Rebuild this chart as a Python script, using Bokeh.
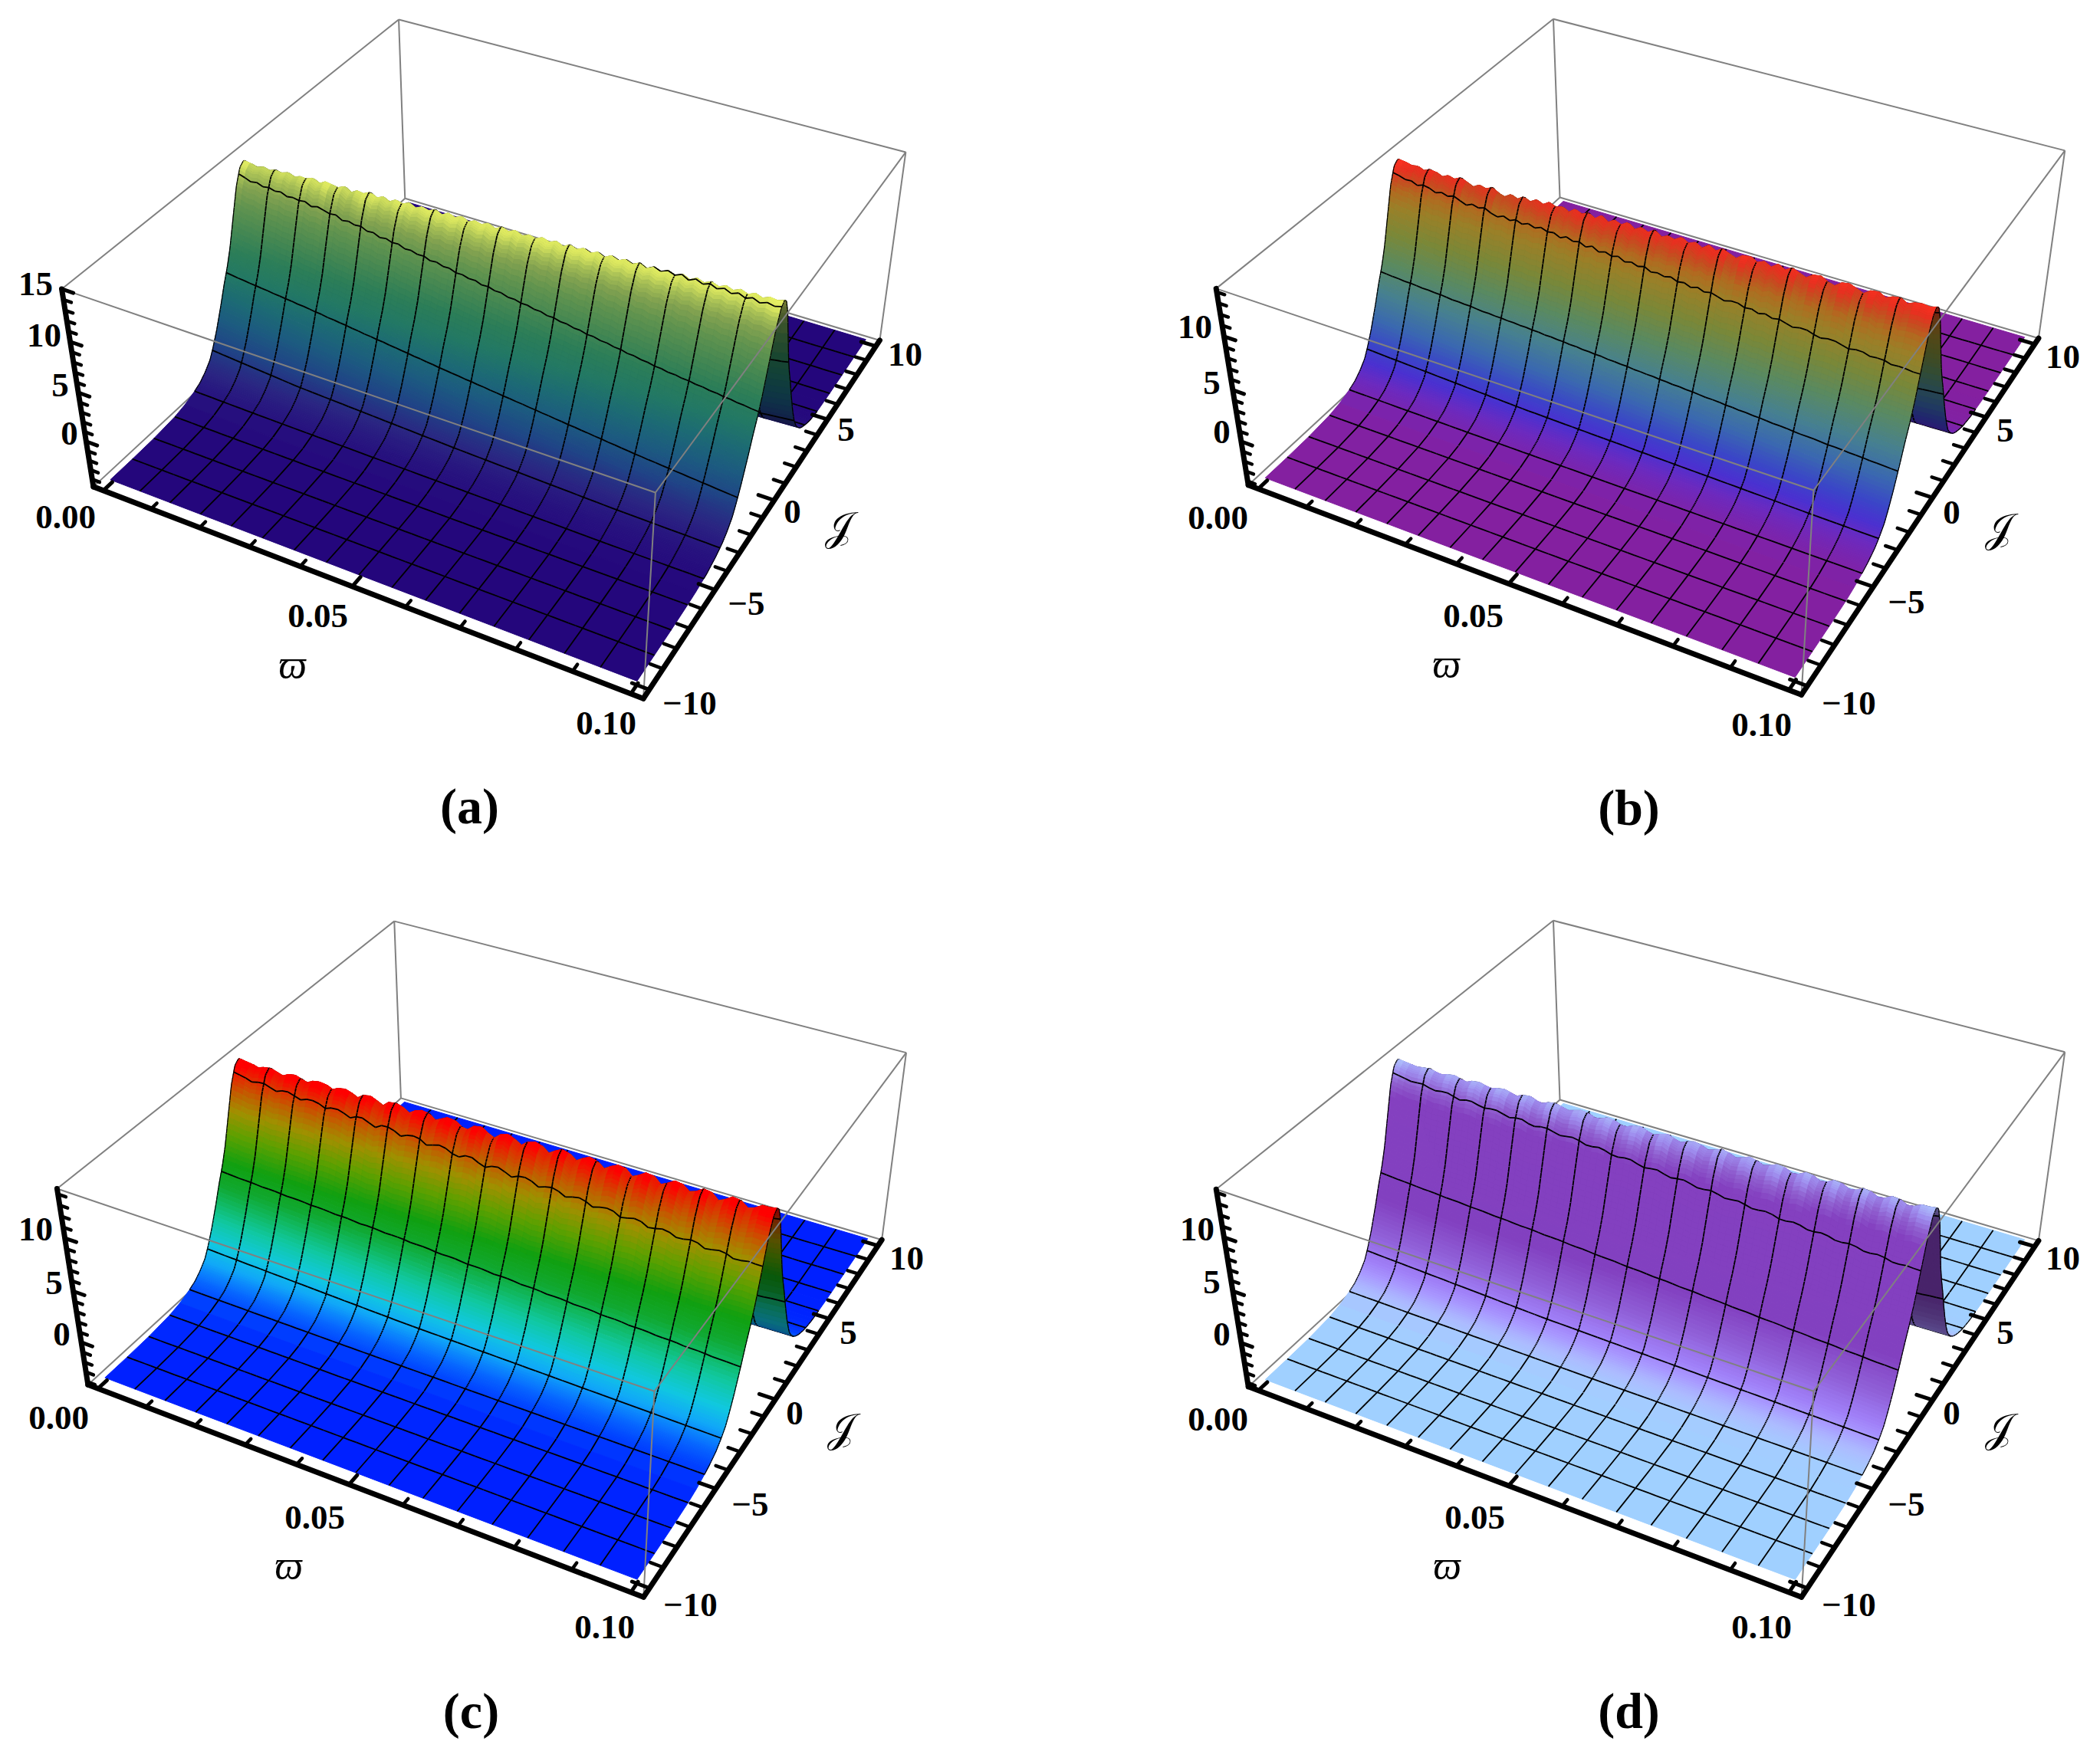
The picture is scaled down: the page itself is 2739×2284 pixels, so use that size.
import numpy as np
from bokeh.plotting import figure
from bokeh.layouts import gridplot
from bokeh.models import Range1d, ColumnDataSource
from bokeh.core.properties import value
from bokeh.embed import file_html
from bokeh.resources import INLINE

# ---------- data ----------
omega_range = (0.0, 0.10)
J_range = (-10.0, 10.0)
box_pad_omega = 0.0021
box_pad_J = 0.42
mesh_cells = 16
samples_per_cell = 5

# distance from the ridge line along the J axis, and rise of the surface there (0 = floor, 1 = crest)
ridge_J = [0, .25, .55, .8, 1.0, 1.25, 1.5, 1.8, 2.1, 2.5, 2.8, 3.05, 3.4, 3.75, 4.25, 5, 6, 7.5, 8.75, 30]
ridge_rise = [1, .98, .90, .80, .72, .62, .54, .46, .37, .26, .19, .14, .10, .07, .045, .02, .006, .001, 0, 0]
back_slope_narrowing = 1.25
# how strongly the crest's ripple reaches down the slope
reach_J = [0, .25, .5, .75, 1, 1.25, 1.5, 2, 2.5, 3, 3.3, 30]
reach_val = [1, 1, .75, .5, .33, .2, .13, .08, .05, .02, 0, 0]

ripple_a = [-.02, -.04, -.07, -.04, -.07,
            -.04, -.06, -.03, -.07, -.04,
            -.05, -.02, -.07, -.02, -.04,
            -.06, -.02, -.08, -.03, -.05,
            -.01, -.06, -.02, -.07, -.02,
            -.05, -.01, -.06, -.02, -.05,
            -.01, -.06, -.01, -.05, -.01,
            -.06, -.02, -.05, -.01, -.06,
            -.01, -.05, -.01, -.06, -.02,
            -.05, -.01, -.05, -.01, -.06,
            -.01, -.05, -.01, -.05, -.01,
            -.06, -.01, -.05, -.01, -.05,
            -.01, -.06, -.01, -.05, -.01,
            -.05, -.01, -.06, -.01, -.05,
            -.01, -.05, -.01, -.05, -.01,
            -.05, -.01, -.05, -.01, -.03, 0]
ripple_b = [0, -.01, -.03, -.02, -.05,
            -.02, -.03, -.06, -.03, -.05,
            -.02, -.05, -.08, -.04, -.06,
            -.03, -.07, -.09, -.05, -.08,
            -.04, -.07, -.03, -.06, -.02,
            -.05, -.03, -.07, -.02, -.05,
            -.02, -.06, -.01, -.06, -.02,
            -.05, -.01, -.06, -.02, -.05,
            -.01, -.06, -.03, -.05, -.01,
            -.05, -.02, -.06, -.01, -.05,
            -.01, -.04, -.07, -.02, -.01,
            -.05, -.02, -.06, -.01, -.05,
            -.01, -.04, -.07, -.02, -.01,
            -.05, -.07, -.02, -.01, -.04,
            -.07, -.02, -.01, -.05, -.02,
            -.01, -.05, -.02, -.01, -.02, 0]
ripple_c = [0, -.01, -.02, -.04, -.02,
            -.01, -.03, -.05, -.02, -.01,
            -.03, -.05, -.02, -.01, -.02,
            -.05, -.02, -.01, -.03, -.06,
            -.02, -.01, -.04, -.07, -.02,
            -.01, -.03, -.07, -.03, -.01,
            -.02, -.07, -.04, -.01, -.02,
            -.06, -.07, -.02, -.01, -.05,
            -.08, -.03, -.01, -.04, -.08,
            -.03, -.01, -.03, -.08, -.04,
            -.01, -.03, -.08, -.04, -.01,
            -.03, -.08, -.04, -.01, -.02,
            -.08, -.05, -.01, -.02, -.08,
            -.05, -.01, -.02, -.07, -.05,
            -.01, -.02, -.08, -.05, -.01,
            -.02, -.07, -.05, -.01, -.01, 0]
ripple_d = [0, -.01, -.02, -.03, -.02,
            -.01, -.03, -.04, -.02, -.01,
            -.03, -.05, -.02, -.01, -.03,
            -.04, -.02, -.01, -.03, -.05,
            -.02, -.01, -.04, -.05, -.02,
            -.01, -.03, -.05, -.03, -.01,
            -.02, -.05, -.04, -.01, -.02,
            -.05, -.05, -.02, -.01, -.04,
            -.06, -.03, -.01, -.04, -.06,
            -.03, -.01, -.03, -.06, -.04,
            -.01, -.03, -.06, -.04, -.01,
            -.03, -.06, -.04, -.01, -.02,
            -.06, -.05, -.01, -.02, -.06,
            -.05, -.01, -.02, -.06, -.05,
            -.01, -.02, -.06, -.05, -.01,
            -.02, -.06, -.05, -.01, -.01, 0]

# colour against rise
levels_a = [0, .04, .1, .2, .3, .4, .5, .6, .7, .8, .87, .92, .96, 1]
colors_a = ["#24067c", "#26107e", "#2a2482", "#1f4486", "#1c5a80", "#1c6a74", "#227864", "#2c7e58", "#468852", "#62944f",
            "#82a250", "#a8c056", "#dce860", "#f4fa66"]
levels_b = [0, .03, .08, .13, .2, .3, .42, .55, .68, .8, .87, .92, .96, 1]
colors_b = ["#8420a0", "#7e22a8", "#6a2ac0", "#4a30d0", "#3a45c8", "#3a68b0", "#468090", "#5a8a60", "#7a8838", "#9a8028",
            "#b06c20", "#c84a20", "#e83020", "#ff3020"]
levels_c = [0, .04, .08, .13, .2, .3, .38, .45, .55, .68, .78, .86, .92, .97]
colors_c = ["#0020ff", "#0040ff", "#0870ff", "#10a8f8", "#10c8e0", "#10c8a0", "#10b860", "#10a830", "#10a010", "#60a000",
            "#a09000", "#c06000", "#e03000", "#ff0000"]
levels_d = [0, .03, .06, .1, .14, .25, .4, .85, .91, .96, 1]
colors_d = ["#a0d0ff", "#a4ccff", "#acbcff", "#a898ff", "#a080f8", "#9060d8", "#8240c0", "#8440c0", "#9060d0", "#a090f0", "#b0c8ff"]

z_ticks_major = [0, 5, 10, 15]
omega_tick_labels = ["0.00", "0.05", "0.10"]
omega_tick_values = [0.0, 0.05, 0.10]
J_tick_labels = ["\u221210", "\u22125", "0", "5", "10"]
J_tick_values = [-10, -5, 0, 5, 10]
omega_title = "\u03d6"
J_title = "\U0001D4A5"

# where ticks sit in panel (a); these tie the camera's perspective down
cal_omega = {0.01: (199, 664), 0.02: (260, 688), 0.03: (325, 713), 0.05: (462, 766), 0.06: (527, 791), 0.07: (599, 819), 0.08: (672, 847)}
cal_J = {-5: (933, 768), 0: (1010, 650), 5: (1077, 552)}
cal_z = {0: (111, 575), 5: (101, 512), 10: (91, 445)}

# one entry for each panel. Box corners: image position of bottom (A B C D) and top (E F G H) corners
panels = [
    dict(frame=(0, 1362, 0, 1142), caption="(a)", ripple=ripple_a, levels=levels_a, colors=colors_a, crest_line=(-0.9, 0.2), relief=.35,
         z_box=(-4.8, 15.0), floor=-4.4, crest=14.6, z_top_tick=15,
         A=(120, 633), B=(838, 910), C=(1147, 441), D=(527, 257), E=(80, 375), F=(853, 642), G=(1182, 197), H=(520, 27),
         z_lab=[(90, 565), (78, 502), (57, 437), (46, 370)], w_lab=[(85, 674), (414, 803), (790, 943)], w_title=(381, 866),
         J_lab=[(899, 917), (973, 787), (1033, 667), (1103, 560), (1180, 462)], J_pos=(1093, 687), cap=(612, 1051)),
    dict(frame=(1362, 2723, 0, 1142), caption="(b)", ripple=ripple_b, levels=levels_b, colors=colors_b, crest_line=(-0.9, -0.3), relief=.5,
         z_box=(-4.4, 14.3), floor=-4.0, crest=13.9, z_top_tick=10,
         A=(1626, 631), B=(2348, 905), C=(2659, 438), D=(2034, 257), E=(1586, 374), F=(2365, 640), G=(2693, 196), H=(2025, 25),
         z_lab=[(1593, 563), (1580, 499), (1558, 426)], w_lab=[(1588, 675), (1921, 803), (2297, 945)], w_title=(1886, 865),
         J_lab=[(2411, 917), (2486, 785), (2545, 668), (2615, 561), (2690, 465)], J_pos=(2606, 689), cap=(2124, 1053)),
    dict(frame=(0, 1362, 1142, 2268), caption="(c)", ripple=ripple_c, levels=levels_c, colors=colors_c, crest_line=(-0.9, -0.4), relief=.55,
         z_box=(-4.3, 14.5), floor=-3.9, crest=14.25, z_top_tick=10,
         A=(112, 1804), B=(838, 2082), C=(1150, 1614), D=(522, 1432), E=(74, 1549), F=(852, 1815), G=(1182, 1372), H=(514, 1202),
         z_lab=[(80, 1740), (70, 1673), (46, 1603)], w_lab=[(76, 1849), (410, 1979), (788, 2122)], w_title=(376, 2041),
         J_lab=[(900, 2093), (978, 1962), (1036, 1843), (1106, 1738), (1182, 1641)], J_pos=(1096, 1863), cap=(614, 2231)),
    dict(frame=(1362, 2723, 1142, 2268), caption="(d)", ripple=ripple_d, levels=levels_d, colors=colors_d, crest_line=(-0.9, -0.35), relief=.45,
         z_box=(-4.4, 14.3), floor=-4.0, crest=14.0, z_top_tick=10,
         A=(1626, 1807), B=(2348, 2082), C=(2659, 1615), D=(2034, 1434), E=(1586, 1549), F=(2365, 1815), G=(2693, 1372), H=(2025, 1201),
         z_lab=[(1593, 1740), (1580, 1672), (1561, 1603)], w_lab=[(1588, 1851), (1923, 1979), (2297, 2122)], w_title=(1887, 2041),
         J_lab=[(2411, 2093), (2486, 1962), (2545, 1843), (2615, 1738), (2690, 1641)], J_pos=(2606, 1863), cap=(2124, 2231)),
]

SERIF = value("Liberation Serif")
BOX_GRAY = "#808080"
MESH = "#000000"
UNDERSIDE = 0.55
ref = panels[0]


def fit_camera(pn, w0, w1, j0, j1, z0, z1):
    obs = [((0, 0, 0), pn["A"]), ((1, 0, 0), pn["B"]), ((1, 1, 0), pn["C"]), ((0, 1, 0), pn["D"]),
           ((0, 0, 1), pn["E"]), ((1, 0, 1), pn["F"]), ((1, 1, 1), pn["G"]), ((0, 1, 1), pn["H"])]

    def carry(pt, a, b):
        # a tick read in panel (a), moved along with the corners of the edge it lies on
        ea, eb = np.array(ref[a], float), np.array(ref[b], float)
        t = np.dot(np.array(pt, float) - ea, eb - ea) / np.dot(eb - ea, eb - ea)
        da, db = np.array(pn[a], float) - ea, np.array(pn[b], float) - eb
        return tuple(np.array(pt, float) + (1 - t) * da + t * db)

    for om, pt in cal_omega.items():
        obs.append((((om - w0) / (w1 - w0), 0, 0), carry(pt, "A", "B")))
    for J, pt in cal_J.items():
        obs.append(((1, (J - j0) / (j1 - j0), 0), carry(pt, "B", "C")))
    if pn is ref:
        for z, pt in cal_z.items():
            obs.append(((0, 0, (z - z0) / (z1 - z0)), pt))
    rows = []
    for (u, v, w), (x, y) in obs:
        rows.append([u, v, w, 1, 0, 0, 0, 0, -x * u, -x * v, -x * w, -x])
        rows.append([0, 0, 0, 0, u, v, w, 1, -y * u, -y * v, -y * w, -y])
    _, _, vt = np.linalg.svd(np.array(rows, float))
    return vt[-1].reshape(3, 4)


def rgb(hexes):
    return np.array([[int(c[i:i + 2], 16) for i in (1, 3, 5)] for c in hexes], float)


def render_grid():
    # far edge first
    nodes = [10, 8.75, 7.5, 6.25, 5.625, 5, 4.75, 4.5, 4.25, 4, 3.75, 3.5, 3.25, 3, 2.75]
    nodes += list(np.arange(2.5, 0.75, -0.125))
    nodes += list(np.arange(0.75, -5, -0.0625))
    nodes += [-5, -5.625, -6.25, -7.5, -8.75, -10]
    return [float(q) for q in nodes]


def build(pn):
    z0, z1 = pn["z_box"]
    w0, w1 = omega_range[0] - box_pad_omega, omega_range[1] + box_pad_omega
    j0, j1 = J_range[0] - box_pad_J, J_range[1] + box_pad_J
    P = fit_camera(pn, w0, w1, j0, j1, z0, z1)

    def cube_proj(u, v, w):
        X = P @ np.array([u, v, w, 1.0])
        return X[0] / X[2], X[1] / X[2]

    def proj(om, J, z):
        return cube_proj((om - w0) / (w1 - w0), (J - j0) / (j1 - j0), (z - z0) / (z1 - z0))

    floor, crest = pn["floor"], pn["crest"]
    span = crest - floor
    lv = np.array(pn["levels"])
    cols = rgb(pn["colors"])

    def colour(h, dark=False):
        c = [np.interp(h, lv, cols[:, i]) for i in range(3)]
        if dark:
            c = [x * UNDERSIDE for x in c]
        return "#%02x%02x%02x" % tuple(int(round(x)) for x in c)

    Js = render_grid()
    n = mesh_cells * samples_per_cell
    oms = [omega_range[0] + (omega_range[1] - omega_range[0]) * i / n for i in range(n + 1)]
    rip = pn["ripple"]
    relief = pn["relief"]
    c0, c1 = pn["crest_line"]
    line_J = [c0 + (c1 - c0) * i / n for i in range(n + 1)]

    def dist(i, J):
        rel = J - line_J[i]
        return rel * back_slope_narrowing if rel > 0 else -rel

    def H(i, J):
        d = dist(i, J)
        return float(np.interp(d, ridge_J, ridge_rise) + rip[i] * np.interp(d, reach_J, reach_val))

    def H_geom(i, J):
        d = dist(i, J)
        return float(np.interp(d, ridge_J, ridge_rise) + relief * rip[i] * np.interp(d, reach_J, reach_val))

    xs, ys, fc, fa, lc, lw = [], [], [], [], [], []

    def pt(i, J):
        return proj(oms[i], J, floor + span * H_geom(i, J))

    def seg(pts, width):
        xs.append([p[0] for p in pts]); ys.append([p[1] for p in pts])
        fc.append(MESH); fa.append(0.0); lc.append(MESH); lw.append(width)

    def quad(pts, h):
        x = [p[0] for p in pts]; y = [p[1] for p in pts]
        area = sum(x[a] * y[(a + 1) % 4] - x[(a + 1) % 4] * y[a] for a in range(4))
        col = colour(h, dark=area < 0)
        xs.append(x); ys.append(y); fc.append(col); fa.append(1.0); lc.append(col); lw.append(1.0)

    def is_mesh(J):
        return abs(J / 1.25 - round(J / 1.25)) < 1e-6 and abs(J) < 10

    for k in range(len(Js) - 1):
        far, near = Js[k], Js[k + 1]
        if abs(far - near) < 1e-9:
            continue
        fine = -2.75 <= near and far <= 0.9
        step = 1 if fine else samples_per_cell
        for i in range(0, n, step):
            j = i + step
            quad([pt(i, far), pt(j, far), pt(j, near), pt(i, near)],
                 (H(i, far) + H(j, far) + H(i, near) + H(j, near)) / 4)
            if i % samples_per_cell == 0:
                if i:
                    seg([pt(i, far), pt(i, near)], 1.8)
                elif abs(far) <= 5 and abs(near) <= 5:
                    seg([pt(i, far), pt(i, near)], 1.3)
        if abs(far) <= 5 and abs(near) <= 5:
            seg([pt(n, far), pt(n, near)], 1.3)
        if is_mesh(far):
            for i in range(n):
                seg([pt(i, far), pt(i + 1, far)], 1.8)

    x0, x1, y0, y1 = pn["frame"]
    p = figure(width=x1 - x0, height=y1 - y0, x_range=Range1d(x0, x1), y_range=Range1d(y1, y0),
               x_axis_type=None, y_axis_type=None, toolbar_location=None, output_backend="svg",
               min_border=0, outline_line_color=None, background_fill_color="white")
    p.grid.visible = False

    def box_lines(names, width=2.0):
        pts = {k: cube_proj(*c) for k, c in dict(A=(0, 0, 0), B=(1, 0, 0), C=(1, 1, 0), D=(0, 1, 0),
                                                E=(0, 0, 1), F=(1, 0, 1), G=(1, 1, 1), H=(0, 1, 1)).items()}
        p.multi_line([[pts[a][0], pts[b][0]] for a, b in names], [[pts[a][1], pts[b][1]] for a, b in names],
                     line_color=BOX_GRAY, line_width=width)

    box_lines(["DA", "DC", "DH"])
    p.patches("xs", "ys", source=ColumnDataSource(dict(xs=xs, ys=ys, fc=fc, fa=fa, lc=lc, lw=lw)),
              fill_color="fc", fill_alpha="fa", line_color="lc", line_width="lw")
    box_lines(["EF", "FG", "GH", "HE", "FB", "GC"])

    # axes and tick marks
    def ticks(items):
        return [[a[0], b[0]] for a, b in items], [[a[1], b[1]] for a, b in items]

    tx, ty = ticks([(cube_proj(0, 0, 0), cube_proj(0, 0, 1)), (cube_proj(0, 0, 0), cube_proj(1, 0, 0)),
                    (cube_proj(1, 0, 0), cube_proj(1, 1, 0))])
    p.multi_line(tx, ty, line_color="black", line_width=7, line_cap="round")

    major, minor = [], []
    u_of = lambda om: (om - w0) / (w1 - w0)
    v_of = lambda J: (J - j0) / (j1 - j0)
    w_of = lambda z: (z - z0) / (z1 - z0)
    for z in range(int(np.ceil(z0)), int(np.floor(z1)) + 1):
        L = 0.022 if z % 5 == 0 else 0.015
        (major if z % 5 == 0 else minor).append((cube_proj(0, 0, w_of(z)), cube_proj(L, 0, w_of(z))))
    for jt in range(-10, 11):
        L = 0.028 if jt % 5 == 0 else 0.021
        (major if jt % 5 == 0 else minor).append((cube_proj(1, v_of(jt), 0), cube_proj(1 - L, v_of(jt), 0)))
    for it in range(0, 11):
        om = it * 0.01
        L = 0.024 if it % 5 == 0 else 0.016
        (major if it % 5 == 0 else minor).append((cube_proj(u_of(om), 0, 0), cube_proj(u_of(om), L, 0)))
    tx, ty = ticks(major)
    p.multi_line(tx, ty, line_color="black", line_width=5, line_cap="round")
    tx, ty = ticks(minor)
    p.multi_line(tx, ty, line_color="black", line_width=4.5, line_cap="round")

    # labels
    def labels(texts, pos, size, style="bold"):
        p.text([q[0] for q in pos], [q[1] for q in pos], text=texts, text_font=SERIF, text_font_size=size,
               text_font_style=style, text_align="center", text_baseline="middle", text_color="black")

    z_text = [str(t) for t in z_ticks_major if t <= pn["z_top_tick"]]
    labels(z_text, pn["z_lab"], "45px")
    labels(omega_tick_labels, pn["w_lab"], "45px")
    labels(J_tick_labels, pn["J_lab"], "45px")
    labels([omega_title], [pn["w_title"]], "52px", "italic")
    labels([J_title], [pn["J_pos"]], "52px", "normal")
    labels([pn["caption"]], [pn["cap"]], "66px")
    return p


figs = [build(pn) for pn in panels]
grid = gridplot([[figs[0], figs[1]], [figs[2], figs[3]]], toolbar_location=None)
open("out.html", "w").write(file_html(grid, INLINE))
